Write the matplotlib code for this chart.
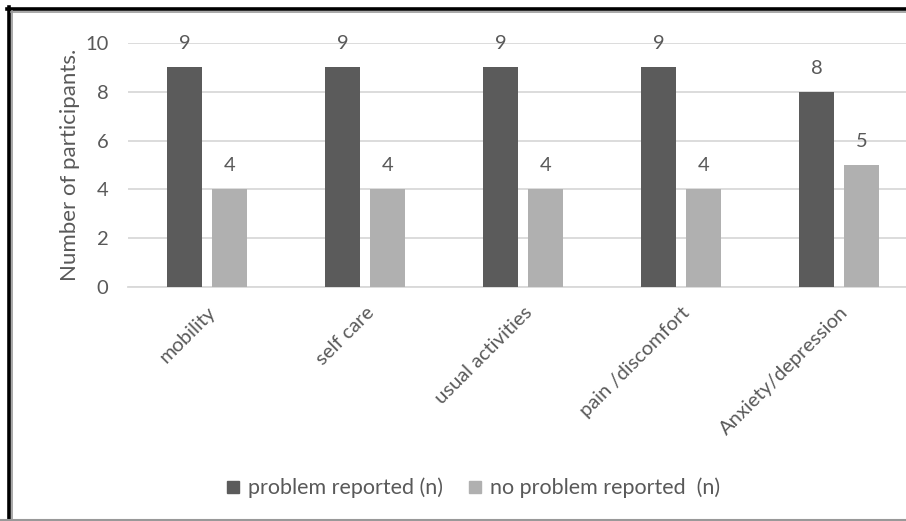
import numpy as np
import matplotlib.pyplot as plt
from matplotlib.lines import Line2D

categories = ["mobility", "self care", "usual activities", "pain /discomfort", "Anxiety/depression"]
problem = [9, 9, 9, 9, 8]
no_problem = [4, 4, 4, 4, 5]
series_names = ["problem reported (n)", "no problem reported  (n)"]

plt.rcParams['font.family'] = ['Lato', 'DejaVu Sans']
txt = '#595959'

fig = plt.figure(figsize=(9.06, 5.21), dpi=100)
W, H = 906, 521
# axes runs slightly past the right edge, the plot is cut there
ax = fig.add_axes([128 / W, 1 - 287 / H, (918 - 128) / W, (287 - 43) / H])

x = np.arange(len(categories))
bw = 0.225
off = 0.143
b1 = ax.bar(x - off, problem, bw, color='#5b5b5b', zorder=3, label=series_names[0])
b2 = ax.bar(x + off, no_problem, bw, color='#b0b0b0', zorder=3, label=series_names[1])

for bars in (b1, b2):
    for r in bars:
        ax.annotate(f"{r.get_height():g}", (r.get_x() + r.get_width() / 2, r.get_height()),
                    xytext=(0, 17), textcoords='offset points', ha='center', va='center',
                    fontsize=14.5, color=txt, zorder=4)

ax.set_xlim(-0.5, len(categories) - 0.5)
ax.set_ylim(0, 10)
ax.set_yticks(range(0, 11, 2))
ax.yaxis.grid(True, color='#d9d9d9', linewidth=1.3, zorder=0)
ax.set_axisbelow(True)
for s in ['top', 'right', 'left']:
    ax.spines[s].set_visible(False)
ax.spines['bottom'].set_color('#d9d9d9')
ax.spines['bottom'].set_linewidth(1.3)
ax.tick_params(length=0, labelsize=14.5, labelcolor=txt, pad=14)
ax.set_xticks(x)
ax.set_xticklabels(categories, rotation=45, ha='right', rotation_mode='anchor')
ax.tick_params(axis='x', pad=12)
ax.set_ylabel("Number of participants.", fontsize=16, color=txt, labelpad=4)

handles = [Line2D([], [], marker='s', linestyle='', markersize=9, color='#5b5b5b'),
           Line2D([], [], marker='s', linestyle='', markersize=9, color='#b0b0b0')]
fig.legend(handles, series_names, loc='center', bbox_to_anchor=(471 / W, 1 - 488 / H),
           ncol=2, frameon=False, fontsize=15.5, labelcolor=txt, handletextpad=0.2,
           columnspacing=1.0, handlelength=1.0)

# frame: heavy black on left and top, thin grey rule along the bottom
fig.add_artist(Line2D([8.5 / W, 8.5 / W], [0, 1 - 7 / H], color='black', linewidth=2.6))
fig.add_artist(Line2D([7 / W, 1], [1 - 8.5 / H, 1 - 8.5 / H], color='black', linewidth=2.6))
fig.add_artist(Line2D([12 / W, 12 / W], [0, 1 - 11 / H], color='#999999', linewidth=1.2))
fig.add_artist(Line2D([11 / W, 1], [1 - 12 / H, 1 - 12 / H], color='#999999', linewidth=1.2))
fig.add_artist(Line2D([0, 1], [1 - 519.5 / H, 1 - 519.5 / H], color='#999999', linewidth=1.5))

fig.savefig('out.png', dpi=100)
